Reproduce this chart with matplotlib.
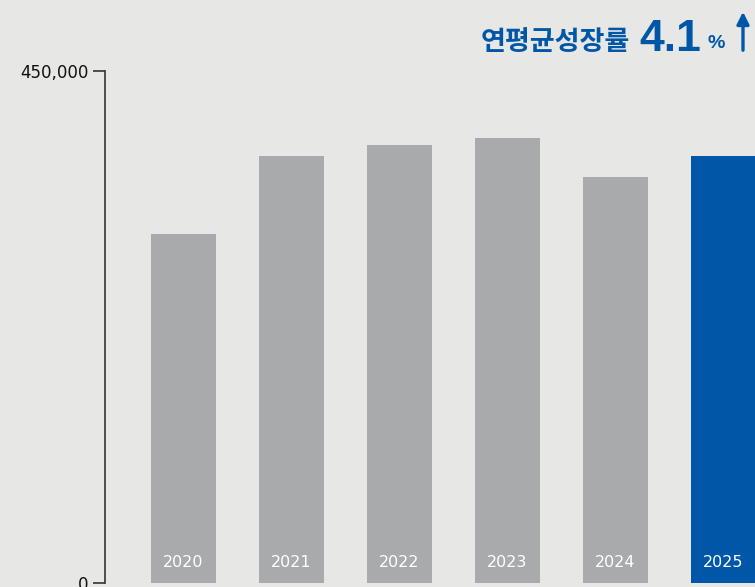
import matplotlib.pyplot as plt
from matplotlib.patches import FancyArrowPatch

plt.rcParams['font.family'] = ['Noto Sans CJK KR', 'DejaVu Sans']

years = ['2020', '2021', '2022', '2023', '2024', '2025']
values = [306700, 375300, 385000, 391100, 356800, 375300]
colors = ['#a8aaac'] * 5 + ['#0057a8']
y_ticks = [0, 450000]
y_labels = ['0', '450,000']
cagr = '4.1'

bg = '#e7e7e6'
fig = plt.figure(figsize=(7.55, 5.87), dpi=100, facecolor=bg)
ax = fig.add_axes([105 / 755, 4 / 587, 650 / 755, 512 / 587])
ax.set_facecolor(bg)

x = list(range(len(years)))
ax.bar(x, values, width=0.602, color=colors, zorder=2)
ax.set_xlim(-0.727, 5.292)
ax.set_ylim(0, 450000)

for xi, yr in zip(x, years):
    ax.text(xi, 17600, yr, ha='center', va='center', color='white',
            fontsize=11.5, family='DejaVu Sans', zorder=3)

for s in ['top', 'right', 'bottom']:
    ax.spines[s].set_visible(False)
ax.spines['left'].set_color('#333333')
ax.spines['left'].set_linewidth(1.2)
ax.set_xticks([])
ax.set_yticks(y_ticks)
ax.set_yticklabels(y_labels, fontsize=12, family='DejaVu Sans', color='#111111')
ax.tick_params(axis='y', length=9, width=1.2, color='#333333', pad=3)

# title
blue = '#0057a8'
fig.text(630 / 755, 1 - 50 / 587, '연평균성장률', ha='right', va='baseline',
         fontsize=19.5, fontweight='bold', color=blue)
fig.text(639 / 755, 1 - 51 / 587, cagr, ha='left', va='baseline',
         fontsize=32, fontweight='bold', color=blue, family='Liberation Sans')
fig.text(708 / 755, 1 - 48 / 587, '%', ha='left', va='baseline',
         fontsize=14, fontweight='bold', color=blue, family='Liberation Sans')
arr = FancyArrowPatch((743 / 755, 1 - 53 / 587), (743 / 755, 1 - 9 / 587),
                      transform=fig.transFigure, arrowstyle='-|>',
                      mutation_scale=18, color=blue, linewidth=2.4)
fig.patches.append(arr)

fig.savefig('out.png', dpi=100, facecolor=bg)
